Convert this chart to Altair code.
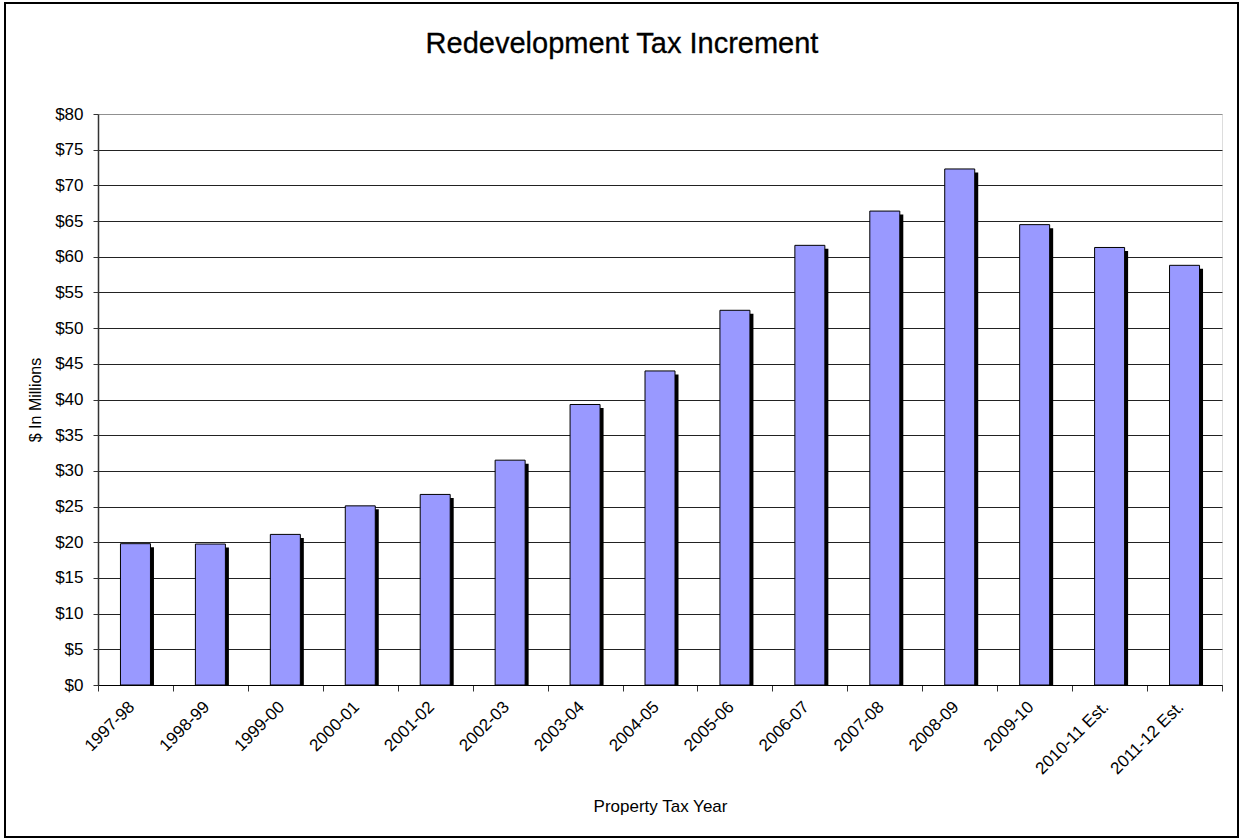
import altair as alt
import pandas as pd

categories = ["1997-98", "1998-99", "1999-00", "2000-01", "2001-02", "2002-03",
              "2003-04", "2004-05", "2005-06", "2006-07", "2007-08", "2008-09",
              "2009-10", "2010-11 Est.", "2011-12 Est."]
values = [19.8, 19.75, 21.1, 25.1, 26.7, 31.5, 39.3, 44.0, 52.5, 61.6, 66.4,
          72.3, 64.5, 61.3, 58.8]
y_ticks = list(range(0, 85, 5))
chart_title = "Redevelopment Tax Increment"

df = pd.DataFrame({"year": categories, "value": values})
FONT = "Liberation Sans"

x_enc = alt.X(
    "year:N", sort=categories,
    scale=alt.Scale(paddingInner=0, paddingOuter=0),
    axis=alt.Axis(
        title="Property Tax Year", titleFont=FONT, titleFontSize=17,
        titleFontWeight="normal", titleColor="black",
        titleX=562, titleY=121, titleBaseline="middle",
        labelFont=FONT, labelFontSize=17, labelColor="black",
        labelAngle=-45, labelAlign="right", labelBaseline="middle",
        labelPadding=13, labelOffset=-4,
        tickBand="extent", tickSize=6, tickColor="#333", tickWidth=1,
        domainColor="black", domainWidth=1, grid=False,
    ),
)
y_enc = alt.Y(
    "value:Q", scale=alt.Scale(domain=[0, 80], nice=False),
    axis=alt.Axis(
        title="$ In Millions", titleFont=FONT, titleFontSize=16,
        titleFontWeight="normal", titleColor="black",
        titleAngle=270, titleX=-63, titleY=285.5,
        titleAlign="center", titleBaseline="middle",
        values=y_ticks, labelExpr="'$' + datum.value",
        labelFont=FONT, labelFontSize=17, labelColor="black", labelPadding=10,
        tickSize=5, tickColor="#333", domainColor="#333", domainWidth=1.5,
        grid=True,
        gridColor=alt.condition("datum.value == 80", alt.value("#909090"), alt.value("#222222")),
        gridWidth=1,
    ),
)

base = alt.Chart(df)
shadow = base.mark_bar(size=30, color="black", xOffset=3.5, yOffset=3.5, clip=True).encode(
    x=x_enc, y=y_enc
)
bars = base.mark_bar(size=30, fill="#9999FF", stroke="black", strokeWidth=1).encode(
    x=x_enc, y=y_enc
)

one = pd.DataFrame({"a": [0]})
frame = alt.Chart(one).mark_rect(
    fill=None, stroke="black", strokeWidth=2
).encode(
    x=alt.value(-93), x2=alt.value(1140), y=alt.value(-111), y2=alt.value(723)
)
title_text = alt.Chart(one).mark_text(
    font=FONT, fontSize=29, color="black", align="center", baseline="alphabetic",
    stroke="black", strokeWidth=0.3
).encode(
    x=alt.value(524), y=alt.value(-61), text=alt.value(chart_title)
)

chart = alt.layer(shadow, bars, frame, title_text).properties(
    width=1124, height=571,
    autosize=alt.AutoSizeParams(type="none"),
    padding={"left": 98, "top": 114, "right": 19, "bottom": 155},
).configure_view(stroke="#909090", strokeWidth=1).configure(background="white")

chart.save("out.html", embed_options={"renderer": "svg", "actions": False})
